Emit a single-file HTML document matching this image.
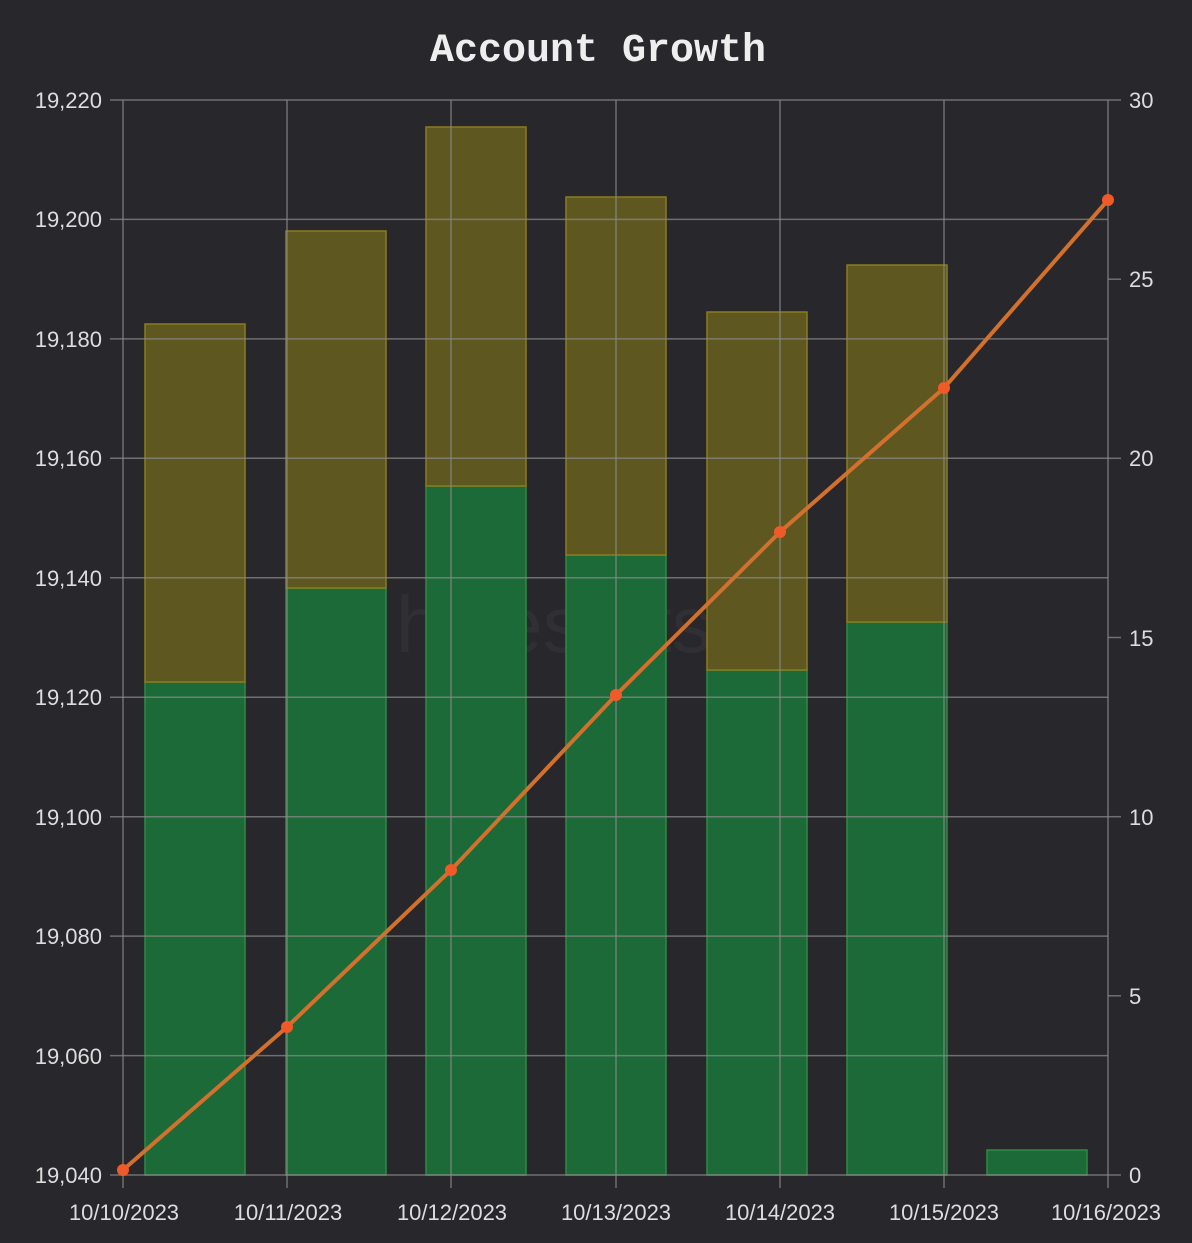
<!DOCTYPE html><html><head><style>body{margin:0;background:#28272b}</style></head><body>
<svg width="1192" height="1238" xmlns="http://www.w3.org/2000/svg" font-family="Liberation Sans, sans-serif">
<rect width="1192" height="1238" fill="#28272b"/>
<text x="598" y="61" text-anchor="middle" font-family="Liberation Mono, DejaVu Sans Mono, monospace" font-weight="bold" font-size="40" fill="#eeeeee">Account Growth</text>
<text x="596" y="652" text-anchor="middle" font-size="80" fill="#302f33">hivestats.io</text>
<g stroke="#2e8a44" stroke-width="1.5">
<rect x="145" y="682" width="100" height="493" fill="#1b6a37"/>
<rect x="286" y="588" width="100" height="587" fill="#1b6a37"/>
<rect x="426" y="486" width="100" height="689" fill="#1b6a37"/>
<rect x="566" y="555" width="100" height="620" fill="#1b6a37"/>
<rect x="707" y="670" width="100" height="505" fill="#1b6a37"/>
<rect x="847" y="622" width="100" height="553" fill="#1b6a37"/>
<rect x="987" y="1150" width="100" height="25" fill="#1b6a37"/>
</g>
<g stroke="#8a7d1e" stroke-width="1.5" fill="#5e5720">
<rect x="145" y="324" width="100" height="358"/>
<rect x="286" y="231" width="100" height="357"/>
<rect x="426" y="127" width="100" height="359"/>
<rect x="566" y="197" width="100" height="358"/>
<rect x="707" y="312" width="100" height="358"/>
<rect x="847" y="265" width="100" height="357"/>
</g>
<g stroke="#888" stroke-opacity="0.75" stroke-width="1.5">
<line x1="110" y1="100" x2="1121" y2="100"/><line x1="110" y1="219.4" x2="1108" y2="219.4"/>
<line x1="110" y1="338.9" x2="1108" y2="338.9"/><line x1="110" y1="458.3" x2="1108" y2="458.3"/>
<line x1="110" y1="577.8" x2="1108" y2="577.8"/><line x1="110" y1="697.2" x2="1108" y2="697.2"/>
<line x1="110" y1="816.7" x2="1108" y2="816.7"/><line x1="110" y1="936.1" x2="1108" y2="936.1"/>
<line x1="110" y1="1055.6" x2="1108" y2="1055.6"/><line x1="110" y1="1175" x2="1121" y2="1175"/>
<line x1="1108" y1="279.2" x2="1121" y2="279.2"/><line x1="1108" y1="458.3" x2="1121" y2="458.3"/><line x1="1108" y1="637.5" x2="1121" y2="637.5"/><line x1="1108" y1="816.7" x2="1121" y2="816.7"/><line x1="1108" y1="995.8" x2="1121" y2="995.8"/>
<line x1="123" y1="100" x2="123" y2="1188"/><line x1="287" y1="100" x2="287" y2="1188"/>
<line x1="451" y1="100" x2="451" y2="1188"/><line x1="616" y1="100" x2="616" y2="1188"/>
<line x1="780" y1="100" x2="780" y2="1188"/><line x1="944" y1="100" x2="944" y2="1188"/>
<line x1="1108" y1="100" x2="1108" y2="1188"/>
</g>
<polyline points="123,1170 287,1027 451,870 616,695 780,532 944,388 1108,200" fill="none" stroke="#d2702e" stroke-width="4"/>
<g fill="#f05a28"><circle cx="123" cy="1170" r="6"/><circle cx="287" cy="1027" r="6"/><circle cx="451" cy="870" r="6"/><circle cx="616" cy="695" r="6"/><circle cx="780" cy="532" r="6"/><circle cx="944" cy="388" r="6"/><circle cx="1108" cy="200" r="6"/></g>
<g font-size="22" fill="#dddddd" text-anchor="end">
<text x="102" y="108">19,220</text><text x="102" y="227">19,200</text><text x="102" y="347">19,180</text>
<text x="102" y="466">19,160</text><text x="102" y="586">19,140</text><text x="102" y="705">19,120</text>
<text x="102" y="825">19,100</text><text x="102" y="944">19,080</text><text x="102" y="1064">19,060</text><text x="102" y="1183">19,040</text>
</g>
<g font-size="22" fill="#dddddd">
<text x="1129" y="108">30</text><text x="1129" y="287">25</text><text x="1129" y="466">20</text>
<text x="1129" y="646">15</text><text x="1129" y="825">10</text><text x="1129" y="1004">5</text><text x="1129" y="1183">0</text>
</g>
<g font-size="22" fill="#dddddd" text-anchor="middle">
<text x="124" y="1220">10/10/2023</text><text x="288" y="1220">10/11/2023</text><text x="452" y="1220">10/12/2023</text>
<text x="616" y="1220">10/13/2023</text><text x="780" y="1220">10/14/2023</text><text x="944" y="1220">10/15/2023</text><text x="1106" y="1220">10/16/2023</text>
</g>
</svg></body></html>
